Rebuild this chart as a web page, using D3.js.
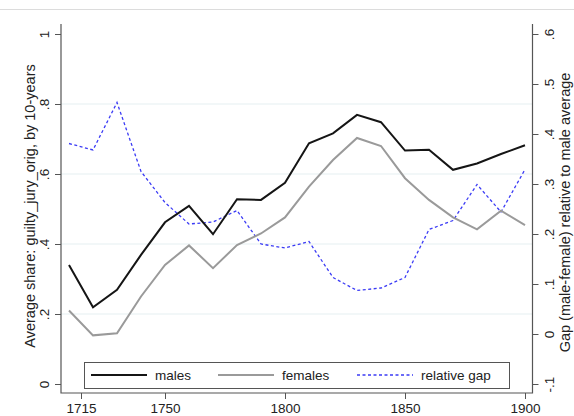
<!DOCTYPE html>
<html>
<head>
<meta charset="utf-8">
<script src="https://cdn.jsdelivr.net/npm/d3@7/dist/d3.min.js"></script>
<style>
  html, body { margin: 0; padding: 0; background: #fff; }
  svg { display: block; font-family: "Liberation Sans", Arial, Helvetica, sans-serif; }
</style>
</head>
<body>
<svg id="chart" width="574" height="416"></svg>
<script>
// Decades covered by the series
const years = [1710, 1720, 1730, 1740, 1750, 1760, 1770, 1780, 1790, 1800,
               1810, 1820, 1830, 1840, 1850, 1860, 1870, 1880, 1890, 1900];
// Average guilty share, males
const males = [0.340, 0.219, 0.269, 0.369, 0.462, 0.509, 0.428, 0.528, 0.526, 0.575,
               0.688, 0.716, 0.769, 0.748, 0.667, 0.669, 0.612, 0.630, 0.657, 0.682];
// Average guilty share, females
const females = [0.210, 0.139, 0.145, 0.250, 0.340, 0.396, 0.331, 0.397, 0.430, 0.476,
                 0.564, 0.640, 0.703, 0.680, 0.588, 0.526, 0.476, 0.442, 0.495, 0.454];
// Relative gap (male - female) / male
const relGap = [0.381, 0.368, 0.463, 0.325, 0.263, 0.220, 0.224, 0.247, 0.180, 0.172,
                0.185, 0.113, 0.087, 0.092, 0.113, 0.209, 0.227, 0.299, 0.244, 0.329];

const xTicks = [1715, 1750, 1800, 1850, 1900];
const leftTicks = [0, 0.2, 0.4, 0.6, 0.8, 1];
const leftTickLabels = ["0", ".2", ".4", ".6", ".8", "1"];
const gridTicks = [0.2, 0.4, 0.6, 0.8];
const rightTicks = [-0.1, 0, 0.1, 0.2, 0.3, 0.4, 0.5, 0.6];
const rightTickLabels = ["-.1", "0", ".1", ".2", ".3", ".4", ".5", ".6"];
const legendLabels = ["males", "females", "relative gap"];

const svg = d3.select("#chart");
const W = 574;

const frame = { left: 61, right: 532.5, top: 24, bottom: 393 };

const x = d3.scaleLinear().domain([1800, 1850]).range([285, 405]);
const yL = d3.scaleLinear().domain([0, 1]).range([384, 34]);
const yR = d3.scaleLinear().domain([-0.1, 0.6]).range([384, 34]);

// thin rule across the top of the page
svg.append("line")
  .attr("x1", 0).attr("x2", W).attr("y1", 9.5).attr("y2", 9.5)
  .attr("stroke", "#dcdcdc").attr("stroke-width", 1);

// horizontal gridlines
svg.append("g").selectAll("line").data(gridTicks).join("line")
  .attr("x1", frame.left).attr("x2", frame.right)
  .attr("y1", d => yL(d)).attr("y2", d => yL(d))
  .attr("stroke", "#e6f0f2").attr("stroke-width", 1.2);

const axisColor = "#555";
const labelColor = "#222";

// left axis
const gL = svg.append("g").attr("transform", `translate(${frame.left},0)`)
  .call(d3.axisLeft(yL).tickValues(leftTicks).tickSize(6).tickFormat((d, i) => leftTickLabels[i]));
gL.select(".domain").remove();
gL.selectAll(".tick line").attr("stroke", axisColor);
gL.selectAll(".tick text")
  .attr("fill", labelColor).attr("font-size", 13.5)
  .attr("text-anchor", "middle")
  .attr("x", 0).attr("dy", 0)
  .attr("transform", "translate(-12.5,0) rotate(-90)");

// right axis
const gR = svg.append("g").attr("transform", `translate(${frame.right},0)`)
  .call(d3.axisRight(yR).tickValues(rightTicks).tickSize(6).tickFormat((d, i) => rightTickLabels[i]));
gR.select(".domain").remove();
gR.selectAll(".tick line").attr("stroke", axisColor);
gR.selectAll(".tick text")
  .attr("fill", labelColor).attr("font-size", 13.5)
  .attr("text-anchor", "middle")
  .attr("x", 0).attr("dy", 0)
  .attr("transform", "translate(21,0) rotate(-90)");

// bottom axis
const gB = svg.append("g").attr("transform", `translate(0,${frame.bottom})`)
  .call(d3.axisBottom(x).tickValues(xTicks).tickSize(6).tickFormat(d3.format("d")));
gB.select(".domain").remove();
gB.selectAll(".tick line").attr("stroke", axisColor);
gB.selectAll(".tick text")
  .attr("fill", labelColor).attr("font-size", 13.5)
  .attr("y", 10).attr("dy", "0.71em");

// axis lines framing the plot (left, bottom, right)
svg.append("path")
  .attr("d", `M${frame.left},${frame.top}V${frame.bottom}H${frame.right}V${frame.top}`)
  .attr("fill", "none").attr("stroke", axisColor).attr("stroke-width", 1.2);

// axis titles
svg.append("text")
  .attr("transform", `translate(35,206) rotate(-90)`)
  .attr("text-anchor", "middle").attr("font-size", 14.5).attr("fill", labelColor)
  .text("Average share: guilty_jury_orig, by 10-years");
svg.append("text")
  .attr("transform", `translate(570,212.5) rotate(-90)`)
  .attr("text-anchor", "middle").attr("font-size", 14.5).attr("fill", labelColor)
  .text("Gap (male-female) relative to male average");

// series lines
const lineL = d3.line().x((d, i) => x(years[i])).y(d => yL(d));
const lineR = d3.line().x((d, i) => x(years[i])).y(d => yR(d));

svg.append("path").datum(relGap).attr("d", lineR)
  .attr("fill", "none").attr("stroke", "#3b3bf5").attr("stroke-width", 1.3)
  .attr("stroke-dasharray", "3,2.5");
svg.append("path").datum(females).attr("d", lineL)
  .attr("fill", "none").attr("stroke", "#9a9a9a").attr("stroke-width", 2);
svg.append("path").datum(males).attr("d", lineL)
  .attr("fill", "none").attr("stroke", "#151515").attr("stroke-width", 2);

// legend
const legend = svg.append("g");
legend.append("rect")
  .attr("x", 84.5).attr("y", 362.5).attr("width", 425).attr("height", 26)
  .attr("fill", "#fff").attr("stroke", "#555").attr("stroke-width", 1);
const legendItems = [
  { x: 91, color: "#151515", width: 2, dash: null },
  { x: 218, color: "#9a9a9a", width: 2, dash: null },
  { x: 357, color: "#3b3bf5", width: 1.3, dash: "3,2.5" }
];
legendItems.forEach((it, i) => {
  legend.append("line")
    .attr("x1", it.x).attr("x2", it.x + 56).attr("y1", 375).attr("y2", 375)
    .attr("stroke", it.color).attr("stroke-width", it.width)
    .attr("stroke-dasharray", it.dash);
  legend.append("text")
    .attr("x", it.x + 64).attr("y", 380)
    .attr("font-size", 13.5).attr("fill", labelColor)
    .text(legendLabels[i]);
});
</script>
</body>
</html>
